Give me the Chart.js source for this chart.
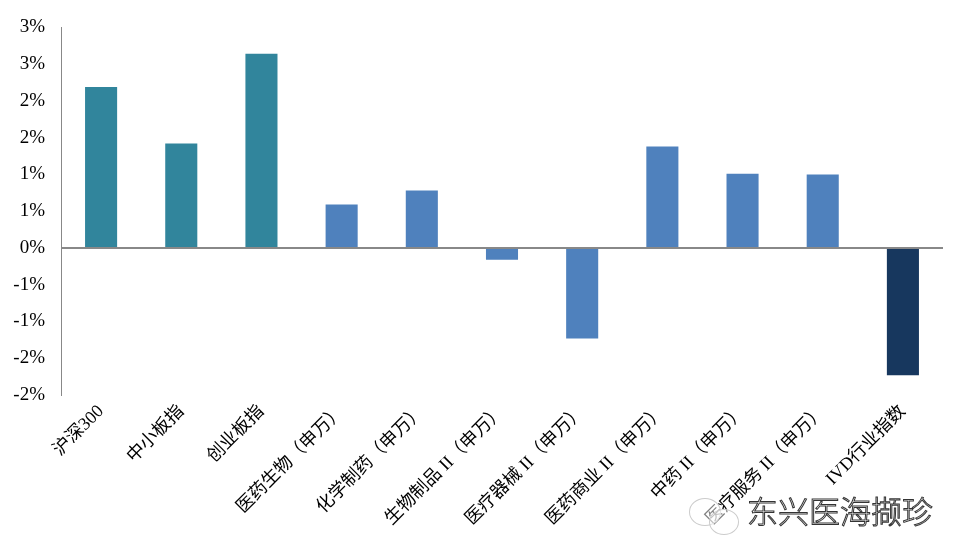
<!DOCTYPE html>
<html>
<head>
<meta charset="utf-8">
<script src="https://cdn.jsdelivr.net/npm/chart.js@4"></script>
<style>
  body { margin: 0; background: #fff; }
  #wrap { position: relative; width: 965px; height: 559px; }
  #mark {
    position: absolute; left: 747px; top: 494px; white-space: nowrap; line-height: 1;
    font-family: "Noto Sans CJK SC", sans-serif; font-size: 31px; font-weight: 300;
    color: #fff; -webkit-text-stroke: 1px #333;
  }
  .bub { position: absolute; border: 1px solid #ccc; border-radius: 50%; background: rgba(255,255,255,0.5); }
</style>
</head>
<body>
<div id="wrap">
  <canvas id="c" width="965" height="559"></canvas>
  <div class="bub" style="left:689px;top:498px;width:30px;height:26px"></div>
  <div class="bub" style="left:709px;top:509px;width:28px;height:24px"></div>
  <div id="mark">东兴医海撷珍</div>
</div>
<script>
const categories = ['沪深300', '中小板指', '创业板指', '医药生物（申万）', '化学制药（申万）',
  '生物制品 II（申万）', '医疗器械 II（申万）', '医药商业 II（申万）', '中药 II（申万）',
  '医疗服务 II（申万）', 'IVD行业指数'];
const returns = [2.19, 1.42, 2.64, 0.59, 0.78, -0.16, -1.23, 1.38, 1.01, 1.00, -1.73];
const barColors = ['#31859C', '#31859C', '#31859C', '#4F81BD', '#4F81BD', '#4F81BD',
  '#4F81BD', '#4F81BD', '#4F81BD', '#4F81BD', '#17375E'];

const labelFont = { family: '"Liberation Serif", "Noto Sans CJK SC", serif', size: 18 };

new Chart(document.getElementById('c'), {
  type: 'bar',
  data: {
    labels: categories,
    datasets: [{
      data: returns,
      backgroundColor: barColors,
      barPercentage: 0.4,
      categoryPercentage: 1
    }]
  },
  options: {
    responsive: false,
    animation: false,
    layout: { padding: { top: 25, right: 22, left: 0, bottom: 0 } },
    plugins: { legend: { display: false }, tooltip: { enabled: false } },
    scales: {
      x: {
        grid: { display: false, drawTicks: false },
        border: { display: false },
        ticks: { color: '#000', font: labelFont, minRotation: 45, maxRotation: 45, padding: 6, autoSkip: false },
        afterFit: s => { s.height = 164; }
      },
      y: {
        min: -2, max: 3,
        grid: {
          drawTicks: false,
          color: ctx => ctx.tick && ctx.tick.value === 0 ? '#888' : 'rgba(0,0,0,0)',
          lineWidth: 2
        },
        border: { display: true, color: '#888', width: 1 },
        ticks: {
          stepSize: 0.5,
          color: '#000',
          padding: 16,
          font: { family: '"Liberation Serif", serif', size: 19 },
          callback: v => (v < 0 ? '-' : '') + Math.round(Math.abs(v)) + '%'
        },
        afterFit: s => { s.width = 61; }
      }
    }
  }
});
</script>
</body>
</html>
